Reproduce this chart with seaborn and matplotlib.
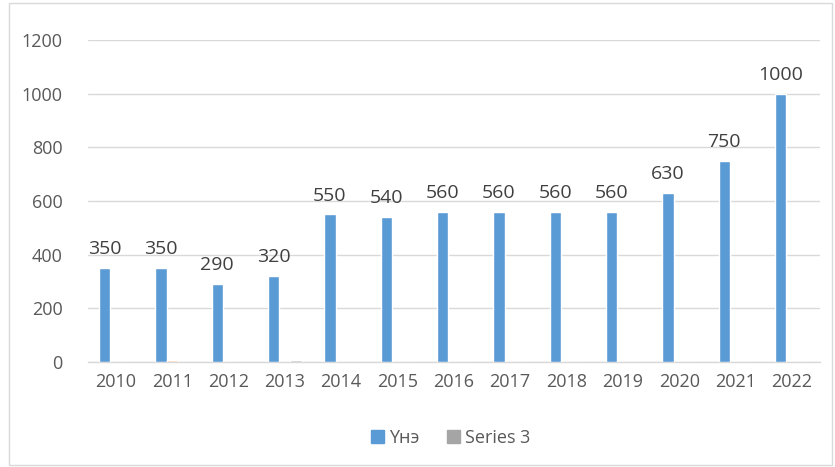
import matplotlib.pyplot as plt
import seaborn as sns
import pandas as pd
from matplotlib.patches import Patch, Rectangle

years = ['2010', '2011', '2012', '2013', '2014', '2015', '2016',
         '2017', '2018', '2019', '2020', '2021', '2022']
price = [350, 350, 290, 320, 550, 540, 560, 560, 560, 560, 630, 750, 1000]
series2 = [0, 6, 0, 0, 0, 0, 0, 0, 0, 0, 0, 0, 0]
series3 = [0, 0, 0, 6, 0, 0, 0, 0, 0, 0, 0, 0, 0]
series_names = ['Үнэ', 'Series 2', 'Series 3']
colors = {'Үнэ': '#5B9BD5', 'Series 2': '#F8CBAD', 'Series 3': '#BFBFBF'}

df = pd.DataFrame({'Year': years * 3,
                   'Value': price + series2 + series3,
                   'Series': [s for s in series_names for _ in years]})

sns.set_theme(style='white')
plt.rcParams['font.family'] = ['Open Sans', 'DejaVu Sans']

fig = plt.figure(figsize=(8.35, 4.67), dpi=100)
ax = fig.add_axes([0.105, 0.225, 0.877, 0.689])

sns.barplot(data=df, x='Year', y='Value', hue='Series', hue_order=series_names,
            palette=colors, order=years, width=0.6, gap=0.0, ax=ax,
            legend=False, saturation=1)

ax.set_ylim(0, 1200)
ax.set_yticks(range(0, 1201, 200))
ax.set_xlim(-0.5, len(years) - 0.5)
ax.yaxis.grid(True, color='#D9D9D9', linewidth=1)
ax.set_axisbelow(True)
for s in ['top', 'right', 'left']:
    ax.spines[s].set_visible(False)
ax.spines['bottom'].set_color('#D9D9D9')
ax.spines['bottom'].set_linewidth(1)
ax.spines['bottom'].set_zorder(0.5)
ax.tick_params(axis='both', length=0, labelsize=13, colors='#595959', pad=8)
ax.tick_params(axis='y', pad=18)
ax.set_xlabel('')
ax.set_ylabel('')

ax.bar_label(ax.containers[0], labels=[str(v) for v in price],
             padding=7, fontsize=14, color='#404040')

handles = [Patch(color=colors['Үнэ'], label='Үнэ'),
           Patch(color='#A5A5A5', label='Series 3')]
fig.legend(handles=handles, loc='center', bbox_to_anchor=(0.54, 0.062),
           ncol=2, frameon=False, fontsize=13, handlelength=0.7,
           handleheight=0.7, handletextpad=0.3, columnspacing=1.5,
           labelcolor='#595959')

fig.add_artist(Rectangle((0.011, 0.004), 0.985, 0.99, transform=fig.transFigure,
                         fill=False, edgecolor='#D9D9D9', linewidth=1))

fig.savefig('out.png', dpi=100)
